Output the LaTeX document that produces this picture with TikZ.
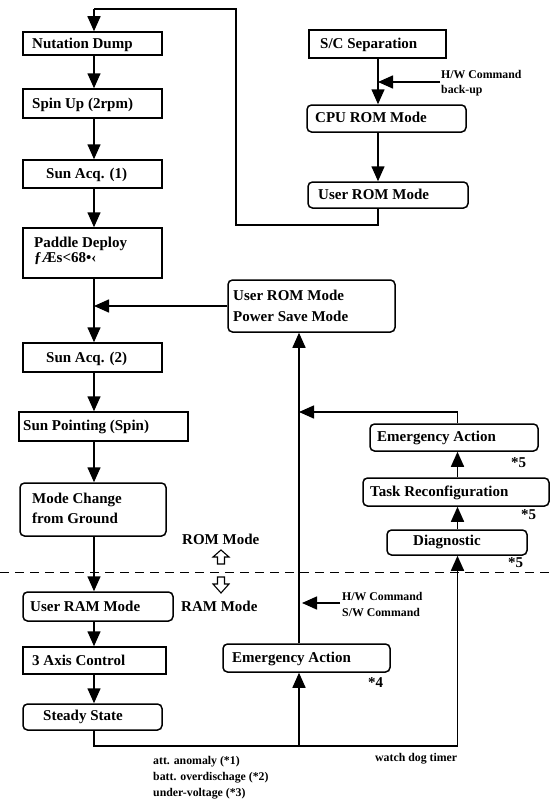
\documentclass[tikz,border=0pt]{standalone}
\usepackage{fontspec}
\setmainfont{Liberation Serif}
\usetikzlibrary{arrows.meta,calc}
\begin{document}
\begin{tikzpicture}[x=1pt,y=-1pt,
  box/.style={draw,line width=1.5pt,inner sep=0pt},
  sqbox/.style={box},
  rbox/.style={box,rounded corners=4.5pt},
  txt/.style={anchor=mid west,inner sep=0pt,yshift=-2.5pt,font=\fontsize{15}{17}\selectfont\bfseries},
  note/.style={anchor=mid west,inner sep=0pt,yshift=-2pt,font=\fontsize{11.8}{13}\selectfont\bfseries},
  conn/.style={line width=1.5pt},
  arr/.style={conn,-{Triangle[length=15pt,width=13pt]}},
  hollow/.style={draw,line width=1.1pt,fill=white}
]
\useasboundingbox (0,0) rectangle (550,800);
% column coordinates
\coordinate (colA) at (94,0);
\coordinate (colB) at (299,0);
\coordinate (colC) at (378,0);
\coordinate (colD) at (457.5,0);
% left column boxes
\node[sqbox,minimum width=139,minimum height=23] (nd) at (92.5,43.5) {};
\node[sqbox,minimum width=139,minimum height=29] (su) at (92.5,103.5) {};
\node[sqbox,minimum width=139,minimum height=28] (sa1) at (92.5,174) {};
\node[sqbox,minimum width=139,minimum height=50] (pd) at (92.5,253) {};
\node[sqbox,minimum width=139,minimum height=29] (sa2) at (92.5,357.5) {};
\node[sqbox,minimum width=169,minimum height=29] (sp) at (103.5,426.5) {};
\node[rbox,minimum width=146,minimum height=53] (mc) at (93,509.5) {};
\node[rbox,minimum width=150,minimum height=29] (ur) at (98,606.5) {};
\node[sqbox,minimum width=143,minimum height=27] (ax) at (94.5,660.5) {};
\node[rbox,minimum width=139,minimum height=26] (ss) at (92.5,717) {};
% right boxes
\node[sqbox,minimum width=137,minimum height=28] (sc) at (377.5,44) {};
\node[rbox,minimum width=159,minimum height=27] (cr) at (386.5,118.5) {};
\node[rbox,minimum width=160,minimum height=26] (urm) at (388,195) {};
\node[rbox,minimum width=167,minimum height=52] (ps) at (311.5,306) {};
\node[rbox,minimum width=168,minimum height=27] (ea1) at (454,437.5) {};
\node[rbox,minimum width=186,minimum height=28] (tr) at (456,492) {};
\node[rbox,minimum width=140,minimum height=25] (dg) at (457,542.5) {};
\node[rbox,minimum width=167,minimum height=28] (ea2) at (306.5,658) {};
% box texts
\node[txt] (tnd) at (32,43.5) {Nutation Dump};
\node[txt] (tsu) at (32,103.5) {Spin Up (2rpm)};
\node[txt] (tsa1) at (46,174) {Sun Acq. (1)};
\node[txt] (tpd1) at (34,243) {Paddle Deploy};
\node[txt] (tpd2) at (34,258) {ƒÆs<68•‹};
\node[txt] (tsa2) at (46,357.5) {Sun Acq. (2)};
\node[txt] (tsp) at (23,426) {Sun Pointing (Spin)};
\node[txt] (tmc1) at (32,498.5) {Mode Change};
\node[txt] (tmc2) at (32,518.5) {from Ground};
\node[txt] (tur) at (30,606.5) {User RAM Mode};
\node[txt] (tax) at (32,661) {3 Axis Control};
\node[txt] (tss) at (43,716) {Steady State};
\node[txt] (tsc) at (320,44) {S/C Separation};
\node[txt] (tcr) at (315,118) {CPU ROM Mode};
\node[txt] (turm) at (318,195) {User ROM Mode};
\node[txt] (tps1) at (233,296) {User ROM Mode};
\node[txt] (tps2) at (233,317) {Power Save Mode};
\node[txt] (tea1) at (377,437) {Emergency Action};
\node[txt] (ttr) at (370,491.5) {Task Reconfiguration};
\node[txt] (tdg) at (413,541) {Diagnostic};
\node[txt] (tea2) at (232,657.5) {Emergency Action};
% marks
\node[txt] (m1) at (511,463) {*5};
\node[txt] (m2) at (521,515) {*5};
\node[txt] (m3) at (508,563) {*5};
\node[txt] (m4) at (368,683) {*4};
\node[txt] (rom) at (182,540) {ROM Mode};
\node[txt] (ram) at (181,607) {RAM Mode};
% notes
\node[note] (hw1) at (441,74) {H/W Command};
\node[note] (hw2) at (441,89.5) {back-up};
\node[note] (hs1) at (342,596) {H/W Command};
\node[note] (hs2) at (342,612) {S/W Command};
\node[note] (wd) at (375,757) {watch dog timer};
\node[note] (c1) at (153,760) {att. anomaly (*1)};
\node[note] (c2) at (153,776.5) {batt. overdischage (*2)};
\node[note] (c3) at (153,792) {under-voltage (*3)};
% left column arrows
\draw[arr] (nd.south -| colA) -- (su.north -| colA);
\draw[arr] (su.south -| colA) -- (sa1.north -| colA);
\draw[arr] (sa1.south -| colA) -- (pd.north -| colA);
\draw[arr] (pd.south -| colA) -- (sa2.north -| colA);
\draw[arr] (sa2.south -| colA) -- (sp.north -| colA);
\draw[arr] (sp.south -| colA) -- (mc.north -| colA);
\draw[arr] (mc.south -| colA) -- (ur.north -| colA);
\draw[arr] (ur.south -| colA) -- (ax.north -| colA);
\draw[arr] (ax.south -| colA) -- (ss.north -| colA);
\draw[arr] (ps.west) -- (ps.west -| colA);
% right top column
\draw[arr] (sc.south -| colC) -- (cr.north -| colC);
\coordinate (hws) at (440,82);
\draw[arr] (hws) -- (hws -| colC);
\draw[arr] (cr.south -| colC) -- (urm.north -| colC);
\coordinate (r1) at (378,225);
\coordinate (r2) at (236,225);
\coordinate (r3) at (236,9);
\coordinate (r4) at (94,9);
\draw[conn] (urm.south -| colC) -- (r1) -- (r2) -- (r3) -- (r4);
\draw[arr] (r4) -- (nd.north -| colA);
% bottom loop
\coordinate (bl) at (94,746);
\coordinate (bj) at (299,746);
\coordinate (br) at (457.5,746);
\draw[conn] (ss.south -| colA) -- (bl) -- (br);
\draw[arr] (br) -- (dg.south -| colD);
\draw[arr] (bj) -- (ea2.south -| colB);
\draw[arr] (ea2.north -| colB) -- (ps.south -| colB);
\draw[arr] (dg.north -| colD) -- (tr.south -| colD);
\draw[arr] (tr.north -| colD) -- (ea1.south -| colD);
\coordinate (ej) at (457.5,412);
\draw[arr] (ea1.north -| colD) -- (ej) -- (ej -| colB);
\coordinate (hs) at (340,603);
\draw[arr] (hs) -- (302,603);
% dashed boundary
\coordinate (dl) at (0,572);
\coordinate (dr) at (550,572);
\draw[line width=1pt,dash pattern=on 9pt off 6pt] (dl) -- (dr);
% hollow arrows
\draw[hollow] (221,550) -- (229,557) -- (224.5,557) -- (224.5,564) -- (217.5,564) -- (217.5,557) -- (213,557) -- cycle;
\draw[hollow] (217.5,577) -- (224.5,577) -- (224.5,584) -- (229,584) -- (221,593) -- (213,584) -- (217.5,584) -- cycle;
\end{tikzpicture}
\end{document}
